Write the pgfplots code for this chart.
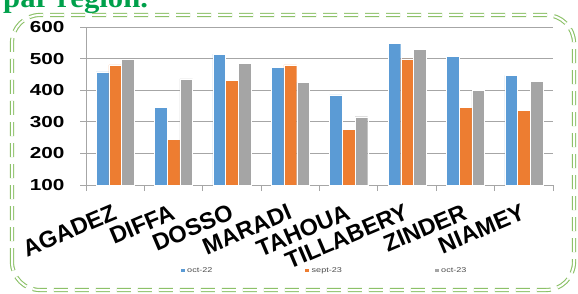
\documentclass[border=0pt]{standalone}
\usepackage{pgfplots}
\pgfplotsset{compat=1.18}
\usepackage{fontspec}
\setmainfont{Liberation Sans}
\newfontfamily\titlefont[FakeStretch=1.1]{Liberation Serif}
\newfontfamily\widefont[FakeStretch=1.3]{Liberation Sans}
\definecolor{cblue}{HTML}{5B9BD5}
\definecolor{corange}{HTML}{ED7D31}
\definecolor{cgray}{HTML}{A5A5A5}
\definecolor{cgrid}{HTML}{A6A6A6}
\definecolor{cborder}{HTML}{8CC168}
\definecolor{ctitle}{HTML}{00A04B}
\pgfplotstableread{
x oct22 sept23 oct23
0 458 480 499
1 345 245 436
2 514 432 485
3 472 480 425
4 385 276 316
5 549 499 529
6 508 345 400
7 447 336 429
}\datatable
\begin{document}
\begin{tikzpicture}[x=1bp,y=1bp]
\useasboundingbox (0,0) rectangle (578,293);
\node[anchor=base west, font=\titlefont\bfseries\fontsize{28}{30}\selectfont, text=ctitle, inner sep=0pt] at (3,286) {par région.};
\draw[cborder, line width=1.1bp, double=white, double distance=2bp, dash pattern=on 14bp off 7bp, rounded corners=28bp] (12,3) rectangle (574,278);
\begin{axis}[
  at={(86bp,108bp)}, anchor=south west,
  scale only axis, width=467bp, height=158bp,
  xmin=-0.5, xmax=7.5, ymin=100, ymax=600,
  ybar=0pt, bar width=12.7bp,
  axis x line*=bottom, axis y line*=left,
  axis line style={cgrid, line width=0.8bp, -},
  ytick={100,200,...,600},
  ymajorgrids, grid style={cgrid, line width=0.8bp},
  tick align=outside, major tick length=6bp,
  tick style={cgrid, line width=0.8bp},
  xtick={0,...,7},
  xticklabels={AGADEZ,DIFFA,DOSSO,MARADI,TAHOUA,TILLABERY,ZINDER,NIAMEY},
  major x tick style={draw=none},
  minor xtick={-0.5,0.5,...,7.5}, minor tick length=6bp,
  minor x tick style={cgrid, line width=0.8bp},
  xticklabel style={rotate=23, anchor=north east, inner sep=0pt, xshift=-8bp, yshift=-10bp, font=\bfseries\fontsize{23.5}{24}\selectfont},
  /pgf/number format/assume math mode=true,
  yticklabel style={font=\widefont\bfseries\fontsize{16}{16}\selectfont, xshift=-12bp},
  legend columns=3,
  legend style={at={(0.51,-0.54)}, anchor=center, draw=none, fill=none,
    font=\widefont\fontsize{7}{8}\selectfont, text=black!70,
    /tikz/every even column/.append style={column sep=90bp}},
  legend image code/.code={\fill[#1] (0bp,-2bp) rectangle (5bp,2.5bp);},
]
\addplot[fill=cblue, draw=white, line width=0.3bp] table[x=x, y=oct22] {\datatable};
\addplot[fill=corange, draw=white, line width=0.3bp] table[x=x, y=sept23] {\datatable};
\addplot[fill=cgray, draw=white, line width=0.3bp] table[x=x, y=oct23] {\datatable};
\legend{oct-22, sept-23, oct-23}
\end{axis}
\end{tikzpicture}
\end{document}
